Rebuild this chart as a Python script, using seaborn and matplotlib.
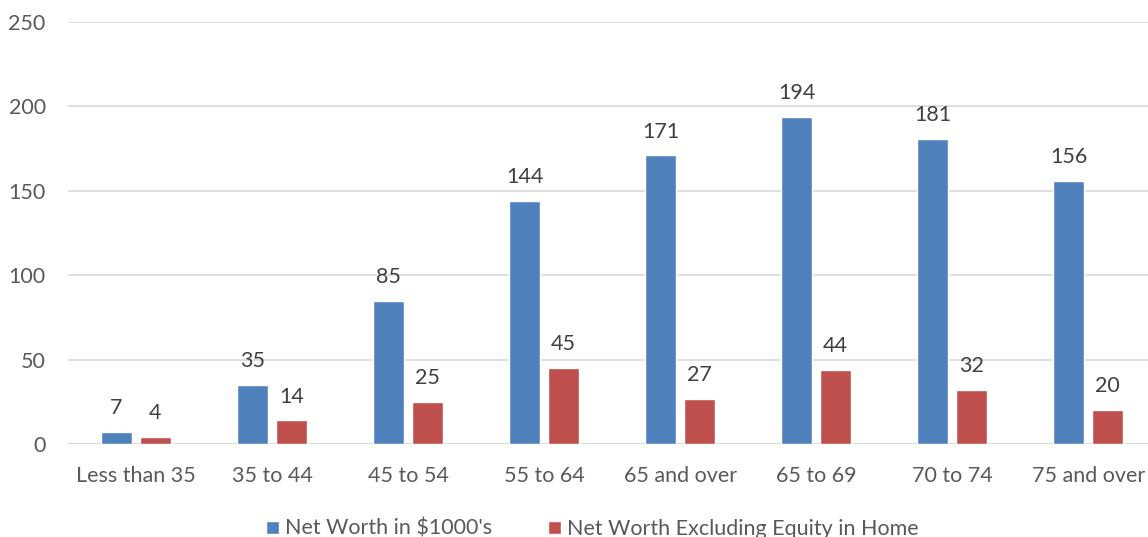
import matplotlib.pyplot as plt
import seaborn as sns
import pandas as pd

# Chart data
age_groups = ["Less than 35", "35 to 44", "45 to 54", "55 to 64",
              "65 and over", "65 to 69", "70 to 74", "75 and over"]
net_worth = [7, 35, 85, 144, 171, 194, 181, 156]
net_worth_ex_home = [4, 14, 25, 45, 27, 44, 32, 20]
series_names = ["Net Worth in $1000's", "Net Worth Excluding Equity in Home"]
colors = ["#4F81BD", "#C0504D"]

# Long format for seaborn
df = pd.concat([
    pd.DataFrame({"group": age_groups, "value": net_worth, "series": series_names[0]}),
    pd.DataFrame({"group": age_groups, "value": net_worth_ex_home, "series": series_names[1]}),
])

sns.set_style("white")
plt.rcParams["font.family"] = ["Lato", "DejaVu Sans"]
fs = 15.5

fig = plt.figure(figsize=(11.48, 5.37), dpi=100)
ax = fig.add_axes([0.0592, 0.173, 0.948, 0.786])

sns.barplot(data=df, x="group", y="value", hue="series", palette=colors,
            width=0.573, gap=0.205, ax=ax, errorbar=None, saturation=1)

# Data labels
for cont in ax.containers:
    ax.bar_label(cont, fmt="%d", padding=10, fontsize=fs, color="#404040")

ax.set_ylim(0, 250)
ax.set_xlim(-0.5, 7.5)
ax.set_yticks(range(0, 251, 50))
ax.yaxis.grid(True, color="#D9D9D9", linewidth=1.2)
ax.set_axisbelow(True)
ax.axhline(0, color="#D9D9D9", linewidth=1.5, zorder=0.5)
sns.despine(ax=ax, left=True, bottom=True, top=True, right=True)
ax.tick_params(axis="y", length=0, pad=16, labelsize=fs, labelcolor="#595959")
ax.tick_params(axis="x", length=0, pad=16, labelsize=fs, labelcolor="#595959")
ax.set_xlabel("")
ax.set_ylabel("")

# Legend at the bottom
handles, labels = ax.get_legend_handles_labels()
ax.get_legend().remove()
fig.legend(handles, labels, loc="center", bbox_to_anchor=(0.516, 0.015), ncol=2,
           frameon=False, fontsize=fs, labelcolor="#595959",
           handlelength=0.6, handleheight=0.6, handletextpad=0.3, columnspacing=2.6)

fig.savefig("out.png", dpi=100)
